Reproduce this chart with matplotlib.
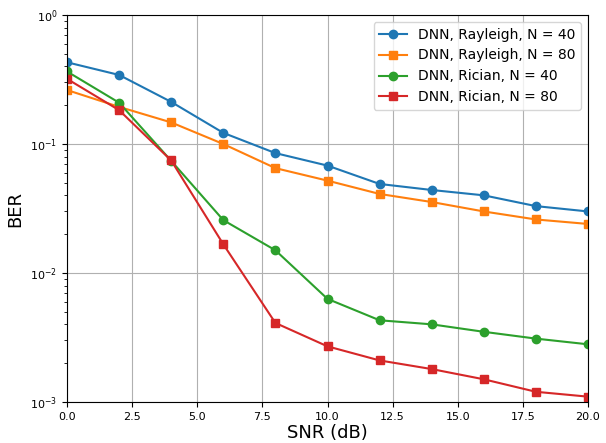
import matplotlib
matplotlib.use('Agg')
import matplotlib.pyplot as plt

snr = [0, 2, 4, 6, 8, 10, 12, 14, 16, 18, 20]
ber_ray40 = [0.43, 0.343, 0.212, 0.122, 0.085, 0.068, 0.049, 0.044, 0.040, 0.033, 0.030]
ber_ray80 = [0.262, 0.194, 0.147, 0.100, 0.065, 0.052, 0.041, 0.0355, 0.030, 0.026, 0.024]
ber_ric40 = [0.365, 0.209, 0.074, 0.0257, 0.015, 0.0063, 0.0043, 0.0040, 0.0035, 0.0031, 0.0028]
ber_ric80 = [0.32, 0.183, 0.0745, 0.0167, 0.0041, 0.0027, 0.0021, 0.0018, 0.0015, 0.0012, 0.0011]

fig = plt.figure(figsize=(6.06, 4.43), dpi=100)
ax = fig.add_axes([67/606, 1 - 402/443, (588-67)/606, (402-15)/443])

ax.semilogy(snr, ber_ray40, marker='o', label='DNN, Rayleigh, N = 40')
ax.semilogy(snr, ber_ray80, marker='s', label='DNN, Rayleigh, N = 80')
ax.semilogy(snr, ber_ric40, marker='o', label='DNN, Rician, N = 40')
ax.semilogy(snr, ber_ric80, marker='s', label='DNN, Rician, N = 80')

ax.set_xlim(0, 20)
ax.set_ylim(1e-3, 1)
ax.grid(True, which='major')
ax.tick_params(labelsize=8)
ax.set_xlabel('SNR (dB)', fontsize=13, labelpad=2)
ax.set_ylabel('BER', fontsize=13)
ax.legend(loc='upper right', fontsize=10)

fig.savefig('out.png', dpi=100)
